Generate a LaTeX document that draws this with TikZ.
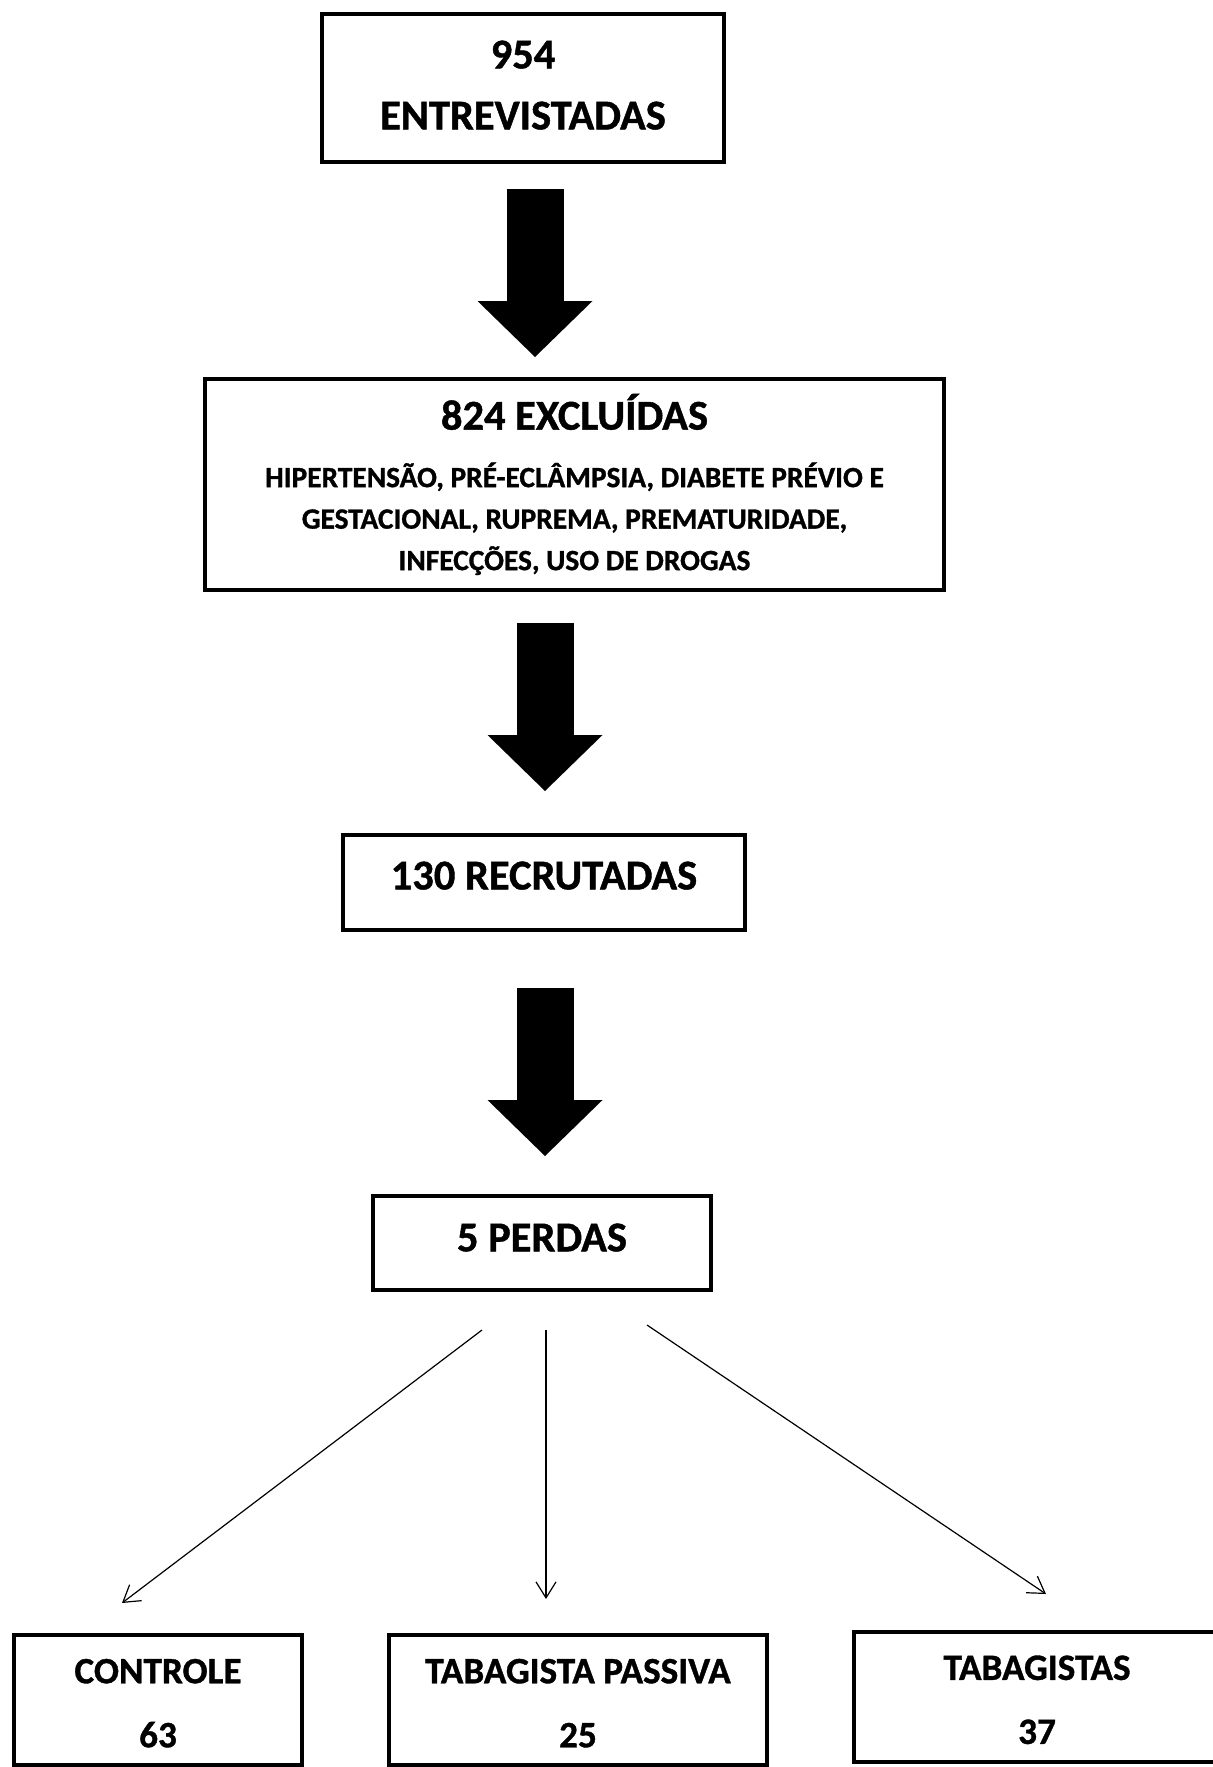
\documentclass[tikz,border=0pt]{standalone}
\usepackage{fontspec}
\setmainfont{Carlito}[BoldFeatures={FakeBold=1}]
\usetikzlibrary{positioning}
\usetikzlibrary{arrows.meta}

\begin{document}
\begin{tikzpicture}
[
x=0.5pt, y=-0.5pt,
box-a/.style={draw, line width=2pt, inner sep=0pt, align=center, font=\bfseries\fontsize{21.25}{30.5}\selectfont},
box-b/.style={box-a, font=\bfseries\fontsize{14.7}{20.75}\selectfont},
box-c/.style={box-a, font=\bfseries\fontsize{18.6}{32}\selectfont, minimum height=65pt},
fat-arrow/.style={line width=28.5pt, -{Triangle[length=28pt, width=57.5pt, line width=0pt]}},
thin-arrow/.style={line width=0.6pt, -{Straight Barb[length=8pt, width=10pt]}},
]
\useasboundingbox (0,0) rectangle (1213,1767);
\node (b1) [box-a, minimum width=201pt, minimum height=74pt, text depth=3pt] at (523,88) {954\\ENTREVISTADAS};
\node (b2) [box-b, minimum width=369.5pt, minimum height=105.5pt] at (574.5,484.5)
  {{\fontsize{21.25}{26}\selectfont\rule{0pt}{17.7pt}824 EXCLUÍDAS}\\[8pt]
   HIPERTENSÃO, PRÉ-ECLÂMPSIA, DIABETE PRÉVIO E\\
   GESTACIONAL, RUPREMA, PREMATURIDADE,\\
   INFECÇÕES, USO DE DROGAS};
\node (b3) [box-a, minimum width=201pt, minimum height=47.5pt, text depth=7pt] at (544,882.5) {130 RECRUTADAS};
\node (b4) [box-a, minimum width=169pt, minimum height=47pt, text depth=5.6pt] at (542,1243) {5 PERDAS};
\node (c1) [box-c, minimum width=144pt] at (158,1700)  {\rule{0pt}{15.4pt}CONTROLE\\63};
\node (c2) [box-c, minimum width=189pt] at (578,1700)  {\rule{0pt}{15.4pt}TABAGISTA PASSIVA\\25};
\node (c3) [box-c, minimum width=183pt] at (1037,1697) {\rule{0pt}{15pt}TABAGISTAS\\37};
\draw [fat-arrow, shorten <=12.5pt, shorten >=10pt]   (b1.south -| 535,0) -- (b2.north -| 535,0);
\draw [fat-arrow, shorten <=15.5pt, shorten >=21pt]   (b2.south -| 545,0) -- (b3.north -| 545,0);
\draw [fat-arrow, shorten <=28pt, shorten >=19pt]     (b3.south -| 545,0) -- (b4.north -| 545,0);
\draw [thin-arrow] ([xshift=-30pt, yshift=-19pt]b4.south)   -- ([xshift=-18pt, yshift=15pt]c1.north);
\draw [thin-arrow] ([xshift=2pt, yshift=-19pt]b4.south)     -- ([xshift=-16pt, yshift=17pt]c2.north);
\draw [thin-arrow] ([xshift=52.5pt, yshift=-16.5pt]b4.south) -- ([xshift=4.5pt, yshift=18pt]c3.north);
\end{tikzpicture}
\end{document}
